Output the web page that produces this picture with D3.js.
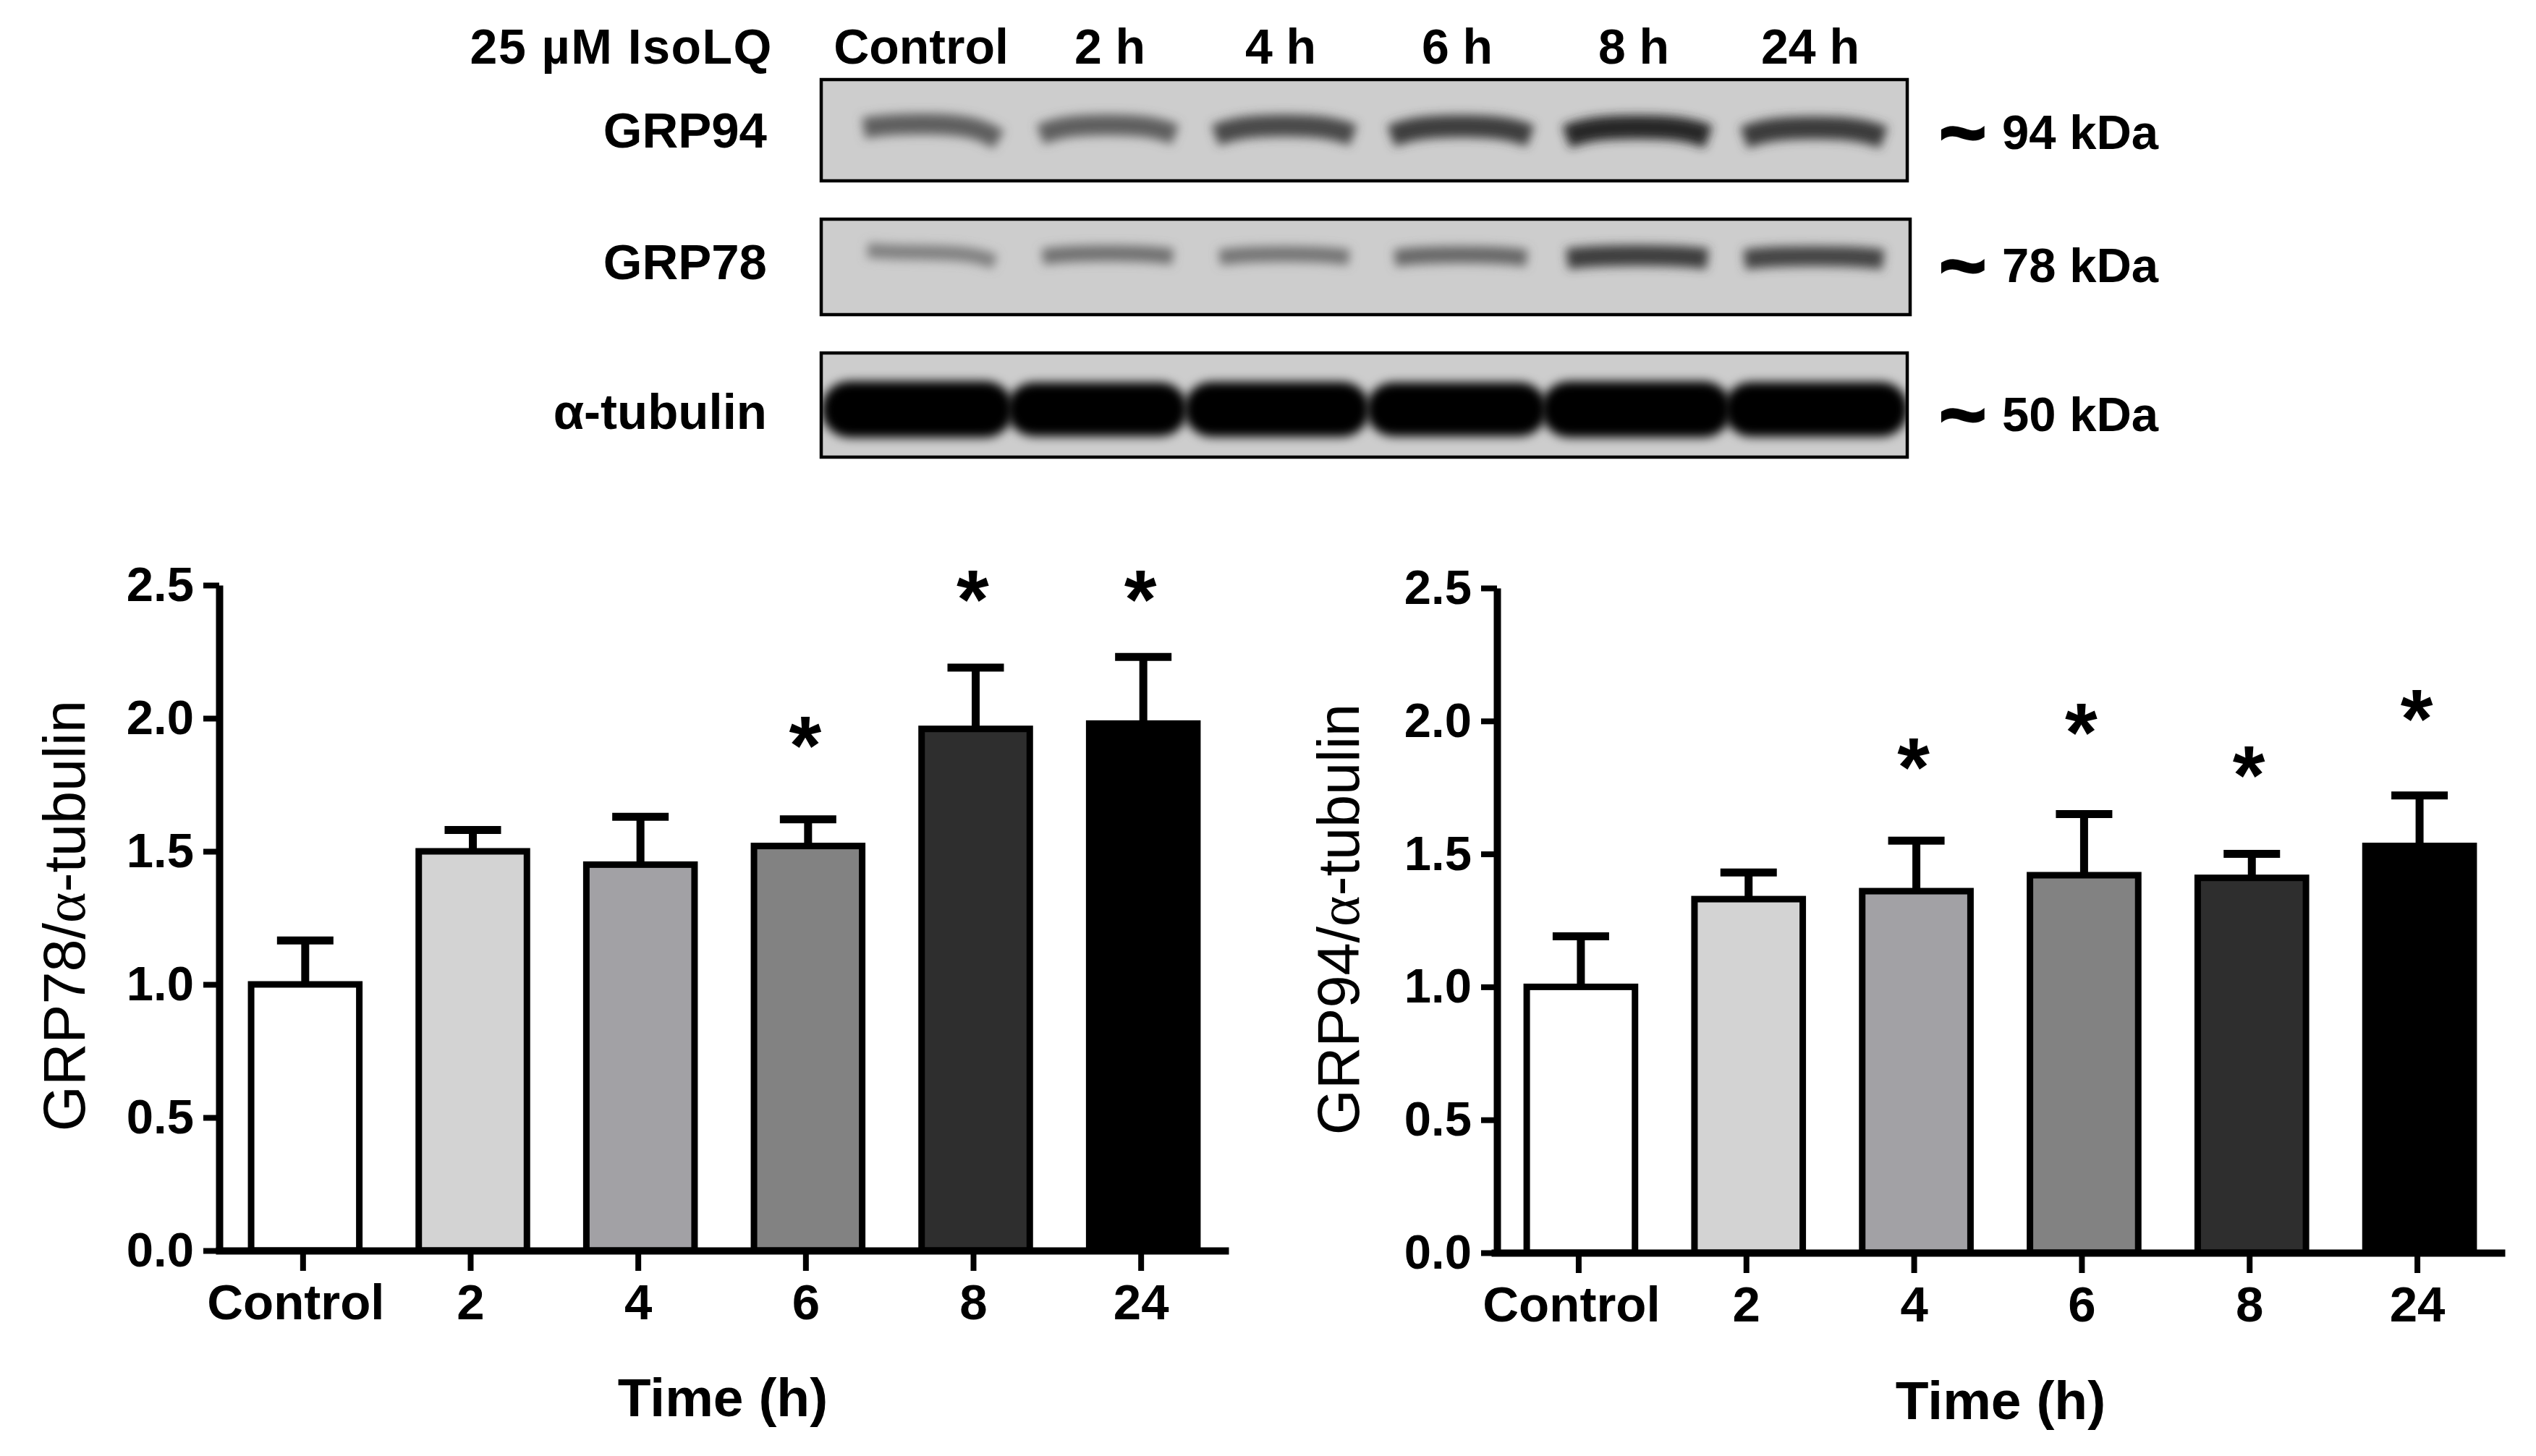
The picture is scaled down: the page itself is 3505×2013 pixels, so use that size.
<!DOCTYPE html>
<html>
<head>
<meta charset="utf-8">
<script src="https://d3js.org/d3.v7.min.js"></script>
<style>
  html, body { margin: 0; background: #fff; }
  text { font-family: "Liberation Sans", Arial, sans-serif; fill: #000; }
  .bold { font-weight: bold; }
</style>
</head>
<body>
<div id="chart-area"></div>
<script>
// bar chart data
const timeLabels = ["Control", "2", "4", "6", "8", "24"];
const grp78Mean = [1.0, 1.5, 1.45, 1.52, 1.96, 1.98];
const grp78Top = [1.165, 1.58, 1.63, 1.62, 2.19, 2.23];
const grp78Star = [null, null, null, 1.94, 2.49, 2.49];
const grp94Mean = [1.0, 1.33, 1.36, 1.42, 1.41, 1.53];
const grp94Top = [1.19, 1.43, 1.55, 1.65, 1.5, 1.72];
const grp94Star = [null, null, 1.87, 2.0, 1.84, 2.05];
const barGreys = ["#ffffff", "#d3d3d3", "#a2a1a5", "#828282", "#2e2e2e", "#000000"];
const yTicks = [0, 0.5, 1, 1.5, 2, 2.5];

// western blot data: band density per lane, 0 to 1
const laneLabels = ["Control", "2 h", "4 h", "6 h", "8 h", "24 h"];
const grp94Density = [0.6, 0.6, 0.72, 0.78, 0.9, 0.8];
const grp78Density = [0.42, 0.5, 0.48, 0.55, 0.78, 0.74];
const tubulinDensity = [1, 0.82, 0.9, 0.82, 0.98, 0.88];

const svg = d3.select("#chart-area")
  .append("svg")
    .attr("width", 3505)
    .attr("height", 2013)
    .style("display", "block");

const blur = svg.append("defs").append("filter")
  .attr("id", "blur")
  .attr("filterUnits", "userSpaceOnUse")
  .attr("x", 1100).attr("y", 90)
  .attr("width", 1600).attr("height", 570);
blur.append("feGaussianBlur").attr("stdDeviation", 7);

// lanes line up across the blots, tubulin runs slightly wider
const blots = [
  {name: "GRP94", kda: "94 kDa", top: 110, bottom: 250, left: 1135, right: 2636, density: grp94Density,
    lanes: [1287, 2507], width: [180, 200], thick: [26, 34], y: 174, arch: 14, drift: 2, textY: 204, kdaY: 183},
  {name: "GRP78", kda: "78 kDa", top: 303, bottom: 435, left: 1135, right: 2640, density: grp78Density,
    lanes: [1287, 2507], width: [175, 205], thick: [20, 34], y: 352, arch: 5, drift: 2, textY: 386, kdaY: 367},
  {name: "α-tubulin", kda: "50 kDa", top: 488, bottom: 632, left: 1135, right: 2636, density: tubulinDensity,
    lanes: [1268, 2510], width: [215, 255], thick: [66, 78], y: 566, arch: 0, drift: 0, textY: 593, kdaY: 573}
];

const bandLine = d3.line().curve(d3.curveBasis);

blots.forEach((b, n) => {
  const g = svg.append("g");
  const clipId = `clip-${n}`;
  const lane = d3.scalePoint().domain(d3.range(6)).range(b.lanes);

  g.append("clipPath").attr("id", clipId).append("rect")
    .attr("x", b.left).attr("y", b.top)
    .attr("width", b.right - b.left).attr("height", b.bottom - b.top);

  g.append("rect")
    .attr("x", b.left).attr("y", b.top)
    .attr("width", b.right - b.left).attr("height", b.bottom - b.top)
    .attr("fill", "#cdcdcd");

  const widthScale = d3.scaleLinear().domain([0.4, 1]).range(b.width);
  const thickScale = d3.scaleLinear().domain([0.4, 1]).range(b.thick);
  // tubulin is overexposed so every lane saturates to black
  const inkScale = d3.scaleLinear()
    .domain([0, n === 2 ? 0.8 : 1])
    .range(["#cdcdcd", n === 2 ? "#000" : "#151515"])
    .clamp(true);

  g.append("g").attr("clip-path", `url(#${clipId})`)
    .selectAll("path")
    .data(b.density)
    .join("path")
      .attr("d", (d, i) => {
        const x = lane(i);
        const half = widthScale(d) / 2 - (n === 2 ? 34 : 0);
        // the control lane runs downhill on the two upper blots
        const tilt = i === 0 ? -b.drift * 4 : 0;
        const y = b.y + (i - 3) * b.drift * 0.5;
        return bandLine([
          [x - half, y + b.arch + tilt],
          [x - half * 0.6, y],
          [x + half * 0.6, y],
          [x + half, y + b.arch - tilt]
        ]);
      })
      .attr("fill", "none")
      .attr("stroke", d => inkScale(d))
      .attr("stroke-width", d => thickScale(d))
      .attr("stroke-linecap", n === 2 ? "round" : "butt")
      .attr("filter", "url(#blur)");

  g.append("rect")
    .attr("x", b.left).attr("y", b.top)
    .attr("width", b.right - b.left).attr("height", b.bottom - b.top)
    .attr("fill", "none")
    .attr("stroke", "#000")
    .attr("stroke-width", 4.5);

  g.append("text")
    .attr("class", "bold")
    .attr("x", 1060)
    .attr("y", b.textY)
    .attr("text-anchor", "end")
    .attr("font-size", 69)
    .text(b.name);

  g.append("text")
    .attr("class", "bold")
    .attr("x", 2680)
    .attr("y", b.kdaY + 38)
    .attr("font-size", 112)
    .attr("stroke", "#000")
    .attr("stroke-width", 3)
    .text("~");

  g.append("text")
    .attr("class", "bold")
    .attr("x", 2767)
    .attr("y", b.kdaY + 23)
    .attr("font-size", 67)
    .text(b.kda);
});

// header row above the blots
svg.append("text")
  .attr("class", "bold")
  .attr("x", 1068)
  .attr("y", 88)
  .attr("text-anchor", "end")
  .attr("font-size", 68)
  .attr("letter-spacing", 1.5)
  .text("25 µM IsoLQ");

const headerLane = d3.scalePoint().domain(d3.range(6)).range(blots[0].lanes);
svg.append("g")
  .selectAll("text")
  .data(laneLabels)
  .join("text")
    .attr("class", "bold")
    .attr("x", (d, i) => headerLane(i) + (i === 0 ? -14 : i === 1 ? 3 : -5))
    .attr("y", 88)
    .attr("text-anchor", "middle")
    .attr("font-size", 68)
    .text(d => d);

function drawPanel(opts) {
  const x = d3.scaleBand()
    .domain(timeLabels)
    .range(opts.xRange)
    .paddingInner(0.32)
    .paddingOuter(0.16);

  const y = d3.scaleLinear()
    .domain([0, 2.5])
    .range(opts.yRange);

  // bars and error bars sit a little right of their ticks in the figure
  const barMid = t => x(t) + x.bandwidth() / 2 + 3;

  const g = svg.append("g");

  // error bars sit behind the bars
  const errors = g.append("g").attr("stroke", "#000");
  timeLabels.forEach((t, i) => {
    const cx = barMid(t);
    errors.append("line")
      .attr("x1", cx).attr("x2", cx)
      .attr("y1", y(opts.mean[i])).attr("y2", y(opts.top[i]))
      .attr("stroke-width", 11);
    errors.append("line")
      .attr("x1", cx - 39).attr("x2", cx + 39)
      .attr("y1", y(opts.top[i])).attr("y2", y(opts.top[i]))
      .attr("stroke-width", 11);
  });

  g.append("g")
    .selectAll("rect")
    .data(opts.mean)
    .join("rect")
      .attr("x", (d, i) => barMid(timeLabels[i]) - x.bandwidth() / 2 + 4)
      .attr("y", d => y(d))
      .attr("width", x.bandwidth() - 8)
      .attr("height", d => opts.yRange[0] - y(d))
      .attr("fill", (d, i) => barGreys[i])
      .attr("stroke", "#000")
      .attr("stroke-width", 9);

  const xAxis = g.append("g")
    .attr("transform", `translate(0, ${opts.yRange[0]})`)
    .call(d3.axisBottom(x).tickSize(28).tickSizeOuter(0).tickPadding(18));
  xAxis.select(".domain").attr("stroke-width", 10).attr("stroke-linecap", "square");
  xAxis.selectAll(".tick line").attr("stroke-width", 8);
  xAxis.selectAll("text")
    .attr("class", "bold")
    .attr("font-size", 69)
    .attr("dx", d => d === "Control" ? -10 : 0);

  const yAxis = g.append("g")
    .attr("transform", `translate(${opts.yAxisX}, 0)`)
    .call(d3.axisLeft(y).tickValues(yTicks).tickFormat(d3.format(".1f")).tickSize(22).tickSizeOuter(0).tickPadding(13));
  yAxis.select(".domain").attr("stroke-width", 10);
  yAxis.selectAll(".tick line").attr("stroke-width", 8);
  yAxis.selectAll("text")
    .attr("class", "bold")
    .attr("font-size", 67);

  // stars
  const starred = timeLabels
    .map((t, i) => ({t, level: opts.star[i]}))
    .filter(d => d.level !== null);
  g.append("g")
    .selectAll("text")
    .data(starred)
    .join("text")
      .attr("class", "bold")
      .attr("x", d => barMid(d.t) - 4)
      .attr("y", d => y(d.level) + 55)
      .attr("text-anchor", "middle")
      .attr("font-size", 115)
      .text("*");

  g.append("text")
    .attr("class", "bold")
    .attr("x", opts.xTitle[0])
    .attr("y", opts.xTitle[1])
    .attr("text-anchor", "middle")
    .attr("font-size", 75)
    .text("Time (h)");

  const title = g.append("text")
    .attr("transform", `translate(${opts.yTitle[0]}, ${opts.yTitle[1]}) rotate(-90)`)
    .attr("text-anchor", "middle")
    .attr("font-size", 81);
  title.append("tspan").text(opts.protein + "/");
  title.append("tspan").style("font-family", "'Liberation Serif', serif").text("α");
  title.append("tspan").text("-tubulin");
}

drawPanel({
  protein: "GRP78",
  mean: grp78Mean, top: grp78Top, star: grp78Star,
  xRange: [303, 1693], yRange: [1729, 809], yAxisX: 303,
  xTitle: [999, 1958], yTitle: [117, 1266]
});

drawPanel({
  protein: "GRP94",
  mean: grp94Mean, top: grp94Top, star: grp94Star,
  xRange: [2066, 3457], yRange: [1732, 813], yAxisX: 2069,
  xTitle: [2765, 1962], yTitle: [1878, 1271]
});
</script>
</body>
</html>
